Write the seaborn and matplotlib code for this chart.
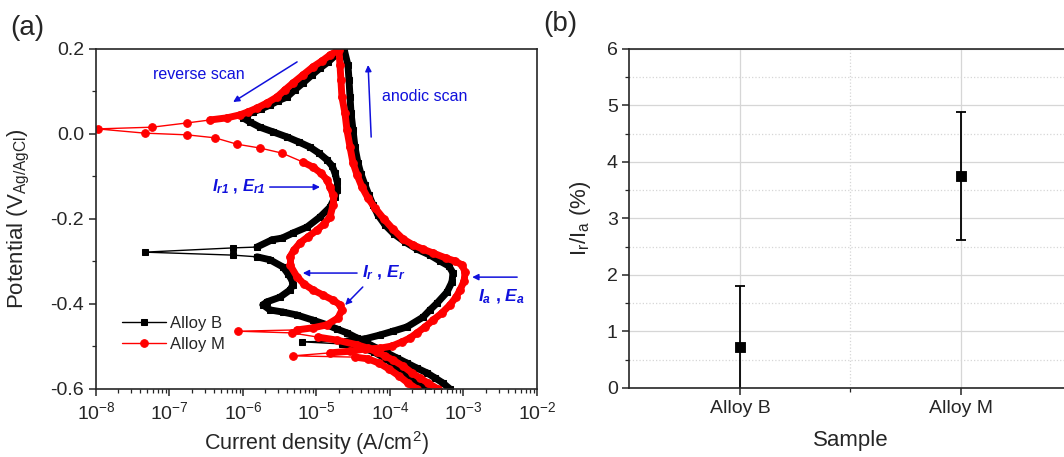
import numpy as np
import matplotlib
matplotlib.use('Agg')
import matplotlib.pyplot as plt
import seaborn as sns
from matplotlib.collections import LineCollection

# (a) cyclic polarization, current density (A/cm2) vs potential (V Ag/AgCl)
b_fwd_current = [3.29e-4, 2.40e-4, 1.76e-4, 1.24e-4, 8.82e-5, 6.05e-5, 3.91e-5, 2.22e-5, 6.35e-6, 2.60e-5,
                 4.57e-5, 7.31e-5, 1.10e-4, 1.70e-4, 2.81e-4, 3.50e-4, 4.36e-4, 5.97e-4, 6.98e-4, 7.20e-4,
                 6.35e-4, 4.79e-4, 3.50e-4, 2.33e-4, 1.60e-4, 1.13e-4, 8.55e-5, 6.87e-5, 5.87e-5, 5.18e-5,
                 4.57e-5, 4.03e-5, 3.67e-5, 3.34e-5, 3.14e-5, 2.95e-5, 2.86e-5, 2.77e-5, 2.68e-5, 2.37e-5]
b_fwd_potential = [-0.600, -0.584, -0.567, -0.548, -0.529, -0.513, -0.501, -0.494, -0.489, -0.487,
                   -0.482, -0.473, -0.464, -0.454, -0.431, -0.414, -0.398, -0.372, -0.348, -0.327,
                   -0.311, -0.299, -0.285, -0.271, -0.254, -0.235, -0.214, -0.191, -0.167, -0.144,
                   -0.120, -0.094, -0.068, -0.031, 0.009, 0.049, 0.087, 0.127, 0.162, 0.200]
b_rev_current = [1.84e-5, 1.43e-5, 1.12e-5, 8.69e-6, 6.55e-6, 5.09e-6, 3.97e-6, 2.99e-6, 2.33e-6, 1.76e-6,
                 1.37e-6, 1.13e-6, 1.00e-6, 1.25e-6, 1.70e-6, 2.56e-6, 3.97e-6, 5.78e-6, 8.17e-6, 1.08e-5,
                 1.39e-5, 1.63e-5, 1.79e-5, 1.90e-5, 1.90e-5, 1.79e-5, 1.53e-5, 1.12e-5, 7.43e-6, 4.79e-6,
                 3.40e-6, 2.48e-6, 1.55e-6, 7.31e-7, 4.6e-8, 7.31e-7, 1.55e-6, 2.33e-6, 3.50e-6, 4.10e-6,
                 4.64e-6, 4.79e-6, 4.36e-6, 3.18e-6, 2.12e-6, 1.87e-6, 2.33e-6, 3.50e-6, 5.43e-6, 8.96e-6,
                 1.39e-5, 1.90e-5, 2.60e-5, 3.56e-5, 4.86e-5, 6.65e-5, 9.10e-5, 1.24e-4, 1.70e-4, 2.33e-4,
                 3.18e-4, 4.10e-4, 5.26e-4, 6.55e-4]
b_rev_potential = [0.186, 0.169, 0.155, 0.139, 0.120, 0.104, 0.087, 0.078, 0.068, 0.059,
                   0.052, 0.045, 0.038, 0.028, 0.016, 0.005, -0.007, -0.019, -0.031, -0.045,
                   -0.061, -0.075, -0.092, -0.111, -0.132, -0.148, -0.172, -0.195, -0.219, -0.233,
                   -0.245, -0.249, -0.266, -0.268, -0.278, -0.285, -0.289, -0.296, -0.313, -0.329,
                   -0.344, -0.355, -0.367, -0.384, -0.395, -0.402, -0.414, -0.419, -0.426, -0.438,
                   -0.449, -0.459, -0.468, -0.480, -0.492, -0.504, -0.515, -0.527, -0.539, -0.551,
                   -0.562, -0.574, -0.586, -0.600]
m_fwd_current = [2.33e-4, 1.76e-4, 1.32e-4, 9.69e-5, 7.08e-5, 5.02e-5, 3.34e-5, 4.79e-6, 1.53e-5, 2.86e-5,
                 4.57e-5, 7.31e-5, 1.06e-4, 1.46e-4, 1.87e-4, 2.33e-4, 2.99e-4, 3.85e-4, 5.09e-4, 6.55e-4,
                 7.91e-4, 8.96e-4, 1.02e-3, 1.05e-3, 9.54e-4, 7.66e-4, 5.78e-4, 3.85e-4, 2.81e-4, 2.06e-4,
                 1.50e-4, 1.10e-4, 8.28e-5, 6.25e-5, 5.02e-5, 4.16e-5, 3.56e-5, 3.14e-5, 2.86e-5, 2.60e-5,
                 2.44e-5, 2.22e-5, 2.15e-5, 2.09e-5, 2.02e-5]
m_fwd_potential = [-0.600, -0.586, -0.569, -0.553, -0.539, -0.529, -0.525, -0.522, -0.515, -0.511,
                   -0.506, -0.504, -0.499, -0.489, -0.480, -0.468, -0.454, -0.438, -0.421, -0.402,
                   -0.384, -0.367, -0.346, -0.325, -0.308, -0.299, -0.292, -0.280, -0.271, -0.261,
                   -0.247, -0.224, -0.200, -0.174, -0.151, -0.125, -0.096, -0.068, -0.031, 0.009,
                   0.049, 0.087, 0.127, 0.162, 0.198]
m_rev_current = [1.53e-5, 1.19e-5, 8.96e-6, 6.55e-6, 4.79e-6, 3.73e-6, 2.90e-6, 2.12e-6, 1.55e-6, 1.17e-6,
                 9.1e-7, 6.05e-7, 3.56e-7, 1.73e-7, 5.8e-8, 1.05e-8, 4.6e-8, 1.73e-7, 4.16e-7, 8.28e-7,
                 1.70e-6, 3.40e-6, 6.55e-6, 8.96e-6, 1.15e-5, 1.39e-5, 1.53e-5, 1.68e-5, 1.68e-5, 1.53e-5,
                 1.26e-5, 1.02e-5, 7.66e-6, 5.97e-6, 4.94e-6, 4.36e-6, 4.36e-6, 5.43e-6, 6.76e-6, 8.96e-6,
                 1.23e-5, 1.68e-5, 2.09e-5, 2.22e-5, 1.96e-5, 1.39e-5, 8.96e-6, 5.43e-6, 8.55e-7, 4.64e-6,
                 1.05e-5, 1.90e-5, 3.56e-5, 5.02e-5, 6.65e-5, 8.55e-5, 1.10e-4, 1.50e-4, 1.99e-4, 2.56e-4,
                 3.29e-4, 4.50e-4]
m_rev_potential = [0.186, 0.172, 0.158, 0.139, 0.120, 0.104, 0.087, 0.073, 0.061, 0.052,
                   0.045, 0.038, 0.033, 0.026, 0.016, 0.012, 0.002, -0.002, -0.009, -0.024,
                   -0.033, -0.045, -0.066, -0.078, -0.092, -0.108, -0.125, -0.144, -0.167, -0.195,
                   -0.212, -0.226, -0.242, -0.256, -0.273, -0.289, -0.308, -0.336, -0.353, -0.367,
                   -0.379, -0.391, -0.402, -0.414, -0.433, -0.449, -0.456, -0.461, -0.464, -0.468,
                   -0.478, -0.485, -0.496, -0.504, -0.513, -0.522, -0.532, -0.546, -0.562, -0.574,
                   -0.586, -0.600]

# (b) Ir/Ia ratio
samples = ['Alloy B', 'Alloy M']
ratio = [0.73, 3.75]
ratio_err = [1.08, 1.13]

blue = '#1010dc'

sns.set_style('ticks')
plt.rcParams['font.family'] = ['Liberation Sans', 'DejaVu Sans']
plt.rcParams['mathtext.fontset'] = 'custom'
plt.rcParams['mathtext.rm'] = 'Liberation Sans'
plt.rcParams['mathtext.it'] = 'Liberation Sans:italic'
plt.rcParams['mathtext.bf'] = 'Liberation Sans:bold'
plt.rcParams['mathtext.bfit'] = 'Liberation Sans:italic:bold'
plt.rcParams['axes.unicode_minus'] = False
plt.rcParams['axes.linewidth'] = 1.2


def band(ax, cur, pot, color):
    # dense stretches of the scan look like a solid thick band
    pts = np.column_stack([cur, pot])
    pix = ax.transData.transform(pts)
    seg = np.stack([pts[:-1], pts[1:]], axis=1)
    gap = np.hypot(*(pix[1:] - pix[:-1]).T)
    lc = LineCollection(seg[gap < 21], colors=color, linewidths=5)
    lc.set_capstyle('round')
    ax.add_collection(lc, autolim=False)


fig = plt.figure(figsize=(10.64, 4.57), dpi=100)
ax1 = fig.add_axes([0.0902, 0.1488, 0.4145, 0.7440])
ax2 = fig.add_axes([0.5916, 0.1510, 0.4154, 0.7418])

# ---- panel (a)
ax1.set_xscale('log')
ax1.set_xlim(1e-8, 1e-2)
ax1.set_ylim(-0.6, 0.2)

b_cur = b_fwd_current + b_rev_current
b_pot = b_fwd_potential + b_rev_potential
m_cur = m_fwd_current + m_rev_current
m_pot = m_fwd_potential + m_rev_potential

band(ax1, b_cur, b_pot, 'black')
sns.lineplot(x=b_cur, y=b_pot, sort=False, estimator=None, ax=ax1, color='black', lw=1.0,
             marker='s', ms=5, mec='black', mfc='black', label='Alloy B')
band(ax1, m_cur, m_pot, '#ff0000')
sns.lineplot(x=m_cur, y=m_pot, sort=False, estimator=None, ax=ax1, color='#ff0000', lw=1.0,
             marker='o', ms=5.5, mec='#ff0000', mfc='#ff0000', label='Alloy M')

ax1.set_xlim(1e-8, 1e-2)
ax1.set_ylim(-0.6, 0.2)
ax1.set_yticks(np.arange(-0.6, 0.21, 0.2))
ax1.set_yticks(np.arange(-0.5, 0.2, 0.2), minor=True)
ax1.yaxis.set_major_formatter(matplotlib.ticker.FormatStrFormatter('%.1f'))
ax1.tick_params(which='major', direction='out', length=5, width=1.1, labelsize=14)
ax1.tick_params(which='minor', direction='out', length=3, width=0.9)
for s in ax1.spines.values():
    s.set_visible(True)
    s.set_linewidth(1.2)
ax1.set_xlabel('Current density (A/cm$^2$)', fontsize=15.5)
ax1.set_ylabel('Potential (V$_{\\mathrm{Ag/AgCl}}$)', fontsize=16)
ax1.yaxis.set_label_coords(-0.145, 0.5)
ax1.xaxis.set_label_coords(0.5, -0.118)

ax1.legend(loc='lower left', bbox_to_anchor=(0.045, 0.09), frameon=False, fontsize=12,
           handlelength=2.6, handletextpad=0.25, labelspacing=0.35, borderaxespad=0)

arrow = dict(arrowstyle='-|>', color=blue, lw=1.1, mutation_scale=9, shrinkA=0, shrinkB=0)
ax1.annotate('', xy=(0.311, 0.844), xytext=(0.456, 0.962), xycoords='axes fraction', arrowprops=arrow)
ax1.text(0.129, 0.924, 'reverse scan', transform=ax1.transAxes, color=blue, fontsize=11.5, va='center')
ax1.annotate('', xy=(0.617, 0.953), xytext=(0.624, 0.741), xycoords='axes fraction', arrowprops=arrow)
ax1.text(0.649, 0.859, 'anodic scan', transform=ax1.transAxes, color=blue, fontsize=11.5, va='center')
ax1.annotate('', xy=(0.508, 0.594), xytext=(0.394, 0.594), xycoords='axes fraction', arrowprops=arrow)
ax1.text(0.263, 0.594, r'$\mathbfit{I_{r1}}$ , $\mathbfit{E_{r1}}$', transform=ax1.transAxes,
         color=blue, fontsize=12, fontweight='bold', va='center')
ax1.annotate('', xy=(0.469, 0.341), xytext=(0.592, 0.341), xycoords='axes fraction', arrowprops=arrow)
ax1.annotate('', xy=(0.565, 0.247), xytext=(0.605, 0.300), xycoords='axes fraction', arrowprops=arrow)
ax1.text(0.603, 0.341, r'$\mathbfit{I_{r}}$ , $\mathbfit{E_{r}}$', transform=ax1.transAxes,
         color=blue, fontsize=12.5, fontweight='bold', va='center')
ax1.annotate('', xy=(0.853, 0.329), xytext=(0.955, 0.329), xycoords='axes fraction', arrowprops=arrow)
ax1.text(0.866, 0.270, r'$\mathbfit{I_{a}}$ , $\mathbfit{E_{a}}$', transform=ax1.transAxes,
         color=blue, fontsize=12.5, fontweight='bold', va='center')

# ---- panel (b)
ax2.set_axisbelow(True)
sns.scatterplot(x=samples, y=ratio, marker='s', color='black', s=60, edgecolor='black', ax=ax2, zorder=3)
ax2.errorbar(samples, ratio, yerr=ratio_err, fmt='none', ecolor='black', elinewidth=1.3,
             capsize=3.5, capthick=1.3, zorder=2)
ax2.set_xlim(-0.5, 1.5)
ax2.set_ylim(0, 6)
ax2.set_yticks(range(0, 7))
ax2.set_yticks(np.arange(0.5, 6, 1), minor=True)
ax2.set_xticks([0.5], minor=True)
ax2.grid(True, which='major', color='#d6d6d6', lw=0.9)
ax2.grid(True, which='minor', color='#d6d6d6', lw=0.9, ls=':')
ax2.tick_params(which='major', direction='out', length=5, width=1.1, labelsize=14)
ax2.tick_params(which='minor', direction='out', length=3, width=0.9)
for s in ax2.spines.values():
    s.set_visible(True)
    s.set_linewidth(1.2)
ax2.set_xlabel('Sample', fontsize=16)
ax2.set_ylabel('I$_\\mathrm{r}$/I$_\\mathrm{a}$ (%)', fontsize=16)
ax2.yaxis.set_label_coords(-0.083, 0.5)
ax2.xaxis.set_label_coords(0.5, -0.125)

fig.text(0.010, 0.968, '(a)', fontsize=20, va='top')
fig.text(0.511, 0.975, '(b)', fontsize=20, va='top')

fig.savefig('out.png', dpi=100)
